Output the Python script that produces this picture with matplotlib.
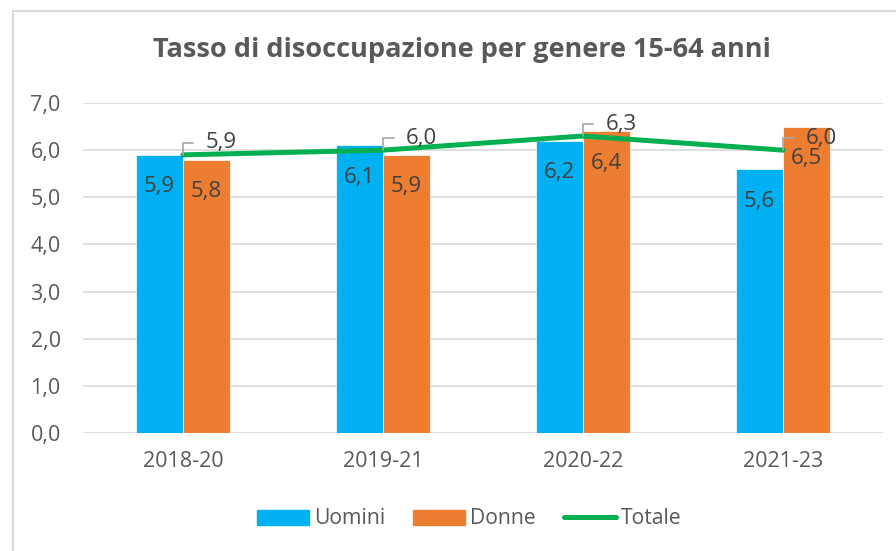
import matplotlib.pyplot as plt
import matplotlib.patches as mpatches
from matplotlib.lines import Line2D
import numpy as np

periodi = ["2018-20", "2019-21", "2020-22", "2021-23"]
uomini = [5.9, 6.1, 6.2, 5.6]
donne = [5.8, 5.9, 6.4, 6.5]
totale = [5.9, 6.0, 6.3, 6.0]

blu = "#00B0F0"
arancio = "#ED7D31"
verde = "#00B050"
grigio = "#595959"

plt.rcParams["font.family"] = ["Open Sans", "DejaVu Sans"]

fig = plt.figure(figsize=(8.96, 5.51), dpi=100)
ax = fig.add_axes([83/896, 1-433/551, 800/896, 330/551])

# bordo esterno del grafico (tagliato a destra e in basso)
fig.patches.append(mpatches.Rectangle((13/896, -0.1), 1.2, 1.1 - 11/551,
                                      transform=fig.transFigure, fill=False,
                                      edgecolor="#D9D9D9", lw=1.5))

x = np.arange(len(periodi))
w = 0.235
ax.bar(x - w/2, uomini, w, color=blu, edgecolor="white", lw=0.5, zorder=2)
ax.bar(x + w/2, donne, w, color=arancio, edgecolor="white", lw=0.5, zorder=2)
ax.plot(x, totale, color=verde, lw=3.6, solid_capstyle="round", zorder=3)

# etichette dentro le barre
for i in range(len(x)):
    ax.annotate(f"{uomini[i]:.1f}".replace(".", ","), (x[i] - w/2, uomini[i]),
                xytext=(0, -32), textcoords="offset pixels", ha="center",
                va="center", fontsize=16, color="#404040", zorder=4)
    ax.annotate(f"{donne[i]:.1f}".replace(".", ","), (x[i] + w/2, donne[i]),
                xytext=(0, -32), textcoords="offset pixels", ha="center",
                va="center", fontsize=16, color="#404040", zorder=4)
    # etichette della linea con richiamo
    ax.annotate(f"{totale[i]:.1f}".replace(".", ","), (x[i], totale[i]),
                xytext=(23, 12), textcoords="offset pixels", ha="left",
                va="center", fontsize=16, color="#404040", zorder=5,
                arrowprops=dict(arrowstyle="-", color="#A6A6A6", lw=1.2,
                                connectionstyle="angle,angleA=0,angleB=90,rad=0",
                                shrinkA=7, shrinkB=0))

ax.set_xlim(-0.5, 3.5)
ax.set_ylim(0, 7)
ax.set_yticks(np.arange(0, 7.1, 1))
ax.set_yticklabels([f"{v:.1f}".replace(".", ",") for v in np.arange(0, 7.1, 1)])
ax.set_xticks(x)
ax.set_xticklabels(periodi)
ax.tick_params(length=0, labelsize=15.5, labelcolor=grigio)
ax.tick_params(axis="y", pad=16)
ax.tick_params(axis="x", pad=13)
ax.yaxis.grid(True, color="#D9D9D9", lw=1.2, zorder=0)
ax.set_axisbelow(True)
for s in ax.spines.values():
    s.set_visible(False)

fig.text(462/896, 1-50/551, "Tasso di disoccupazione per genere 15-64 anni",
         ha="center", va="center", fontsize=19.5, fontweight="bold", color=grigio)

handles = [mpatches.Patch(color=blu, label="Uomini"),
           mpatches.Patch(color=arancio, label="Donne"),
           Line2D([0], [0], color=verde, lw=3.6, solid_capstyle="round", label="Totale")]
fig.legend(handles=handles, loc="center", bbox_to_anchor=(469/896, 1-519/551),
           ncol=3, frameon=False, fontsize=15.2, labelcolor=grigio,
           handlelength=2.46, handletextpad=0.24, columnspacing=1.33)

fig.savefig("out.png", dpi=100)
